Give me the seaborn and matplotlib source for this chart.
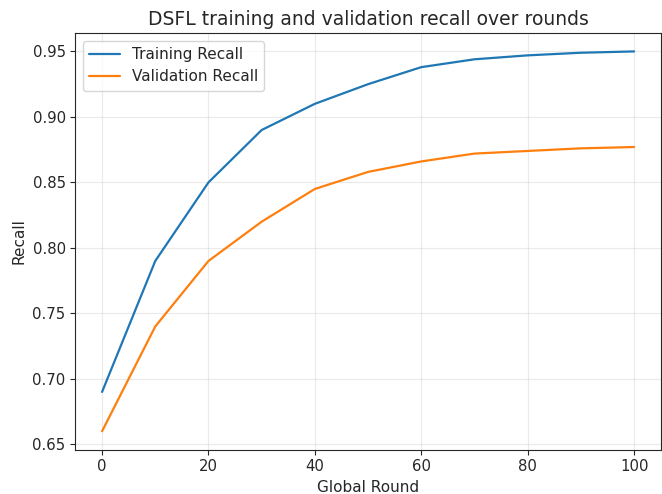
import matplotlib
matplotlib.use("Agg")
import matplotlib.pyplot as plt
import seaborn as sns
import pandas as pd

# Data
rounds = [0, 10, 20, 30, 40, 50, 60, 70, 80, 90, 100]
train_recall = [0.690, 0.790, 0.850, 0.890, 0.910, 0.925, 0.938, 0.944, 0.947, 0.949, 0.950]
val_recall = [0.660, 0.740, 0.790, 0.820, 0.845, 0.858, 0.866, 0.872, 0.874, 0.876, 0.877]

df = pd.DataFrame({
    "Global Round": rounds * 2,
    "Recall": train_recall + val_recall,
    "Series": ["Training Recall"] * len(rounds) + ["Validation Recall"] * len(rounds),
})

sns.set_style("ticks")
plt.rcParams['font.family'] = ['DejaVu Sans']

fig, ax = plt.subplots(figsize=(6.62, 4.94), dpi=100)
sns.lineplot(data=df, x="Global Round", y="Recall", hue="Series",
             palette=["#1f77b4", "#ff7f0e"], linewidth=1.6, ax=ax)

ax.set_title("DSFL training and validation recall over rounds", fontsize=13.5)
ax.set_xlabel("Global Round", fontsize=11)
ax.set_ylabel("Recall", fontsize=11)
ax.tick_params(labelsize=10.7)
ax.grid(True, alpha=0.4)
ax.legend(title=None, loc="upper left", fontsize=11)
ax.set_xlim(-5, 105)
ax.set_ylim(0.646, 0.964)

plt.subplots_adjust(left=0.114, right=0.998, top=0.933, bottom=0.09)
plt.savefig("out.png", dpi=100)
